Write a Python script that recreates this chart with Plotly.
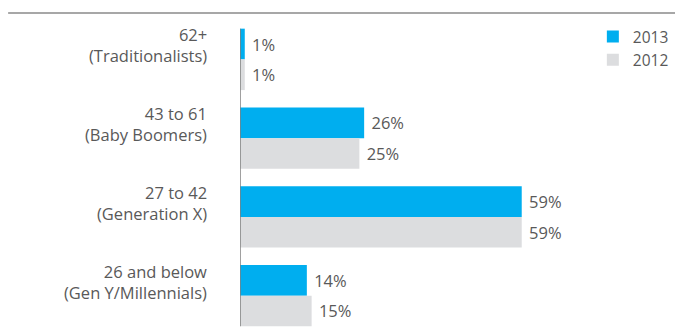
import plotly.graph_objects as go

categories = ["62+<br>(Traditionalists)", "43 to 61<br>(Baby Boomers)",
              "27 to 42<br>(Generation X)", "26 and below<br>(Gen Y/Millennials)"]
cat_keys = ["62+", "43 to 61", "27 to 42", "26 and below"]
values_2013 = [1, 26, 59, 14]
values_2012 = [1, 25, 59, 15]
series_names = ["2013", "2012"]

BLUE = "#00AEEF"
GRAY = "#DCDDDF"
TEXT = "#595959"
FONT = "Open Sans"

fig = go.Figure()
for name, vals, col in [(series_names[0], values_2013, BLUE), (series_names[1], values_2012, GRAY)]:
    fig.add_trace(go.Bar(
        y=cat_keys, x=vals, name=name, orientation="h",
        marker=dict(color=col, line=dict(width=0)),
        text=[f" {v}%" for v in vals], textposition="outside",
        textfont=dict(family=FONT, size=16.5, color=TEXT),
        cliponaxis=False, hoverinfo="skip",
    ))

for key, lab in zip(cat_keys, categories):
    fig.add_annotation(
        x=0, xref="paper", xshift=-31, xanchor="right",
        y=key, yref="y", yshift=14, yanchor="middle",
        text=lab, align="right", showarrow=False,
        font=dict(family=FONT, size=16.5, color=TEXT),
    )

# vertical axis line spanning the bars
fig.add_shape(type="line", xref="x", yref="y", x0=0, x1=0, y0=-0.39, y1=3.39,
              line=dict(color="#808080", width=1.5), layer="above")
# top rule
fig.add_shape(type="line", xref="paper", yref="paper", x0=-0.607, x1=1.139,
              y0=1.022, y1=1.022, line=dict(color="#8a8a8a", width=1.5))

fig.update_layout(
    width=675, height=327,
    margin=dict(l=232, r=61, t=12, b=0),
    barmode="group", bargap=0.22, bargroupgap=0,
    plot_bgcolor="white", paper_bgcolor="white",
    xaxis=dict(range=[0, 80], visible=False, fixedrange=True),
    yaxis=dict(type="category", range=[3.5, -0.5], showticklabels=False,
               showgrid=False, zeroline=False, showline=False, fixedrange=True),
    legend=dict(x=0.9237, y=1.0, xanchor="left", yanchor="top",
                font=dict(family=FONT, size=15.5, color=TEXT),
                bgcolor="rgba(0,0,0,0)", tracegroupgap=0),
    showlegend=True,
    font=dict(family=FONT, color=TEXT),
)

fig.write_html("out.html")
